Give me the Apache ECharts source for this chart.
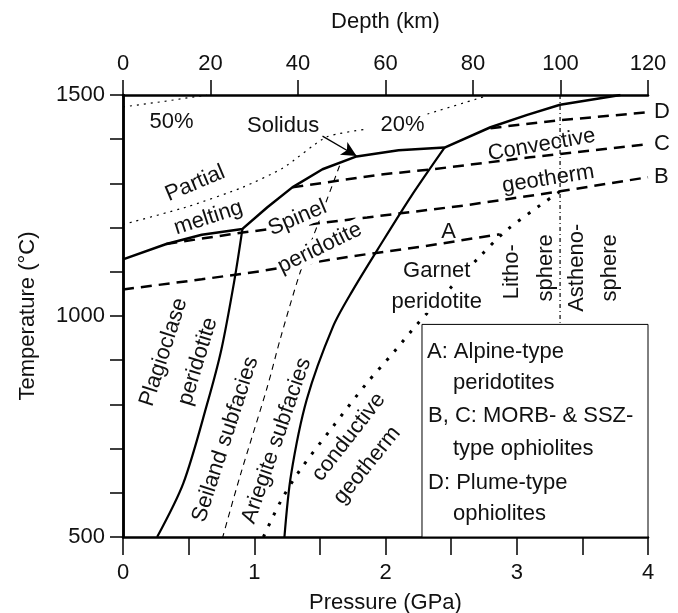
<!DOCTYPE html>
<html>
<head>
<meta charset="utf-8">
<script src="https://cdn.jsdelivr.net/npm/echarts@6/dist/echarts.min.js"></script>
<style>
html, body { margin: 0; padding: 0; background: #fff; }
#chart { width: 678px; height: 613px; }
</style>
</head>
<body>
<div id="chart"></div>
<script>
// pressure (GPa), temperature (°C)
const solidus = [[0, 1128], [0.33, 1163], [0.6, 1184], [0.91, 1197], [1.1, 1246], [1.29, 1291], [1.52, 1332], [1.78, 1361], [2.1, 1375], [2.45, 1381], [2.8, 1427], [3.08, 1455], [3.33, 1478], [3.79, 1500]];
const plagSpinel = [[0.91, 1197], [0.85, 1083], [0.75, 925], [0.64, 800], [0.46, 622], [0.26, 500]];
const spinelGarnet = [[2.45, 1381], [2.2, 1273], [1.96, 1160], [1.75, 1058], [1.6, 976], [1.4, 811], [1.28, 640], [1.23, 500]];
const seilandAriegite = [[1.65, 1340], [1.5, 1220], [1.35, 1099], [1.2, 950], [1.1, 840], [0.89, 636], [0.76, 500]];
const melt50 = [[0, 1473], [0.3, 1485], [0.64, 1500]];
const melt20 = [[0, 1207], [0.5, 1248], [0.91, 1291], [1.22, 1335], [1.55, 1405], [1.86, 1423], [2.1, '-'], [2.32, 1457], [2.77, 1498]];
const geothermA = [[0, 1060], [0.6, 1083], [1.04, 1101], [1.74, 1135], [2.3, 1158], [2.87, 1185]];
const geothermB = [[0.33, 1163], [0.91, 1189], [1.86, 1223], [2.6, 1250], [3.33, 1282], [4, 1314]];
const geothermC = [[1.29, 1291], [1.96, 1320], [2.36, 1332], [3.1, 1359], [4, 1389]];
const geothermD = [[2.8, 1425], [3.33, 1443], [4, 1461]];
const conductive = [[1.07, 500], [1.2, 580], [1.35, 652], [1.6, 750], [1.86, 849], [2.06, 917], [2.24, 981], [2.5, 1065], [2.72, 1135], [2.93, 1196], [3.33, 1282]];
const lithoAstheno = [[3.33, 1500], [3.33, 985]];
const solidusArrow = [[1.52, 1407], [1.78, 1362]];
const legendBox = [[2.278, 981], [4, 500]];

// text, P, T, rotation (deg), align, masks lines behind it
const notes = [
  ['50%', 0.37, 1438, 0],
  ['Solidus', 1.22, 1429, 0],
  ['20%', 2.13, 1433, 0],
  ['Partial', 0.55, 1300, 23],
  ['melting', 0.65, 1222, 18],
  ['Spinel', 1.33, 1222, 23, null, true],
  ['peridotite', 1.5, 1154, 26, null, true],
  ['Convective', 3.19, 1387, 10],
  ['geotherm', 3.24, 1310, 9],
  ['A', 2.48, 1190, 0],
  ['Garnet', 2.39, 1102, 0, null, true],
  ['peridotite', 2.39, 1032, 0, null, true],
  ['Litho-', 2.96, 1100, 90],
  ['sphere', 3.22, 1109, 90],
  ['Astheno-', 3.46, 1109, 90],
  ['sphere', 3.71, 1109, 90],
  ['Plagioclase', 0.31, 918, 72],
  ['peridotite', 0.57, 897, 73],
  ['Seiland subfacies', 0.78, 721, 72],
  ['Ariegite subfacies', 1.17, 718, 71],
  ['conductive', 1.72, 726, 52],
  ['geotherm', 1.86, 662, 51],
  ['A: Alpine-type', 2.316, 918, 0, 'left'],
  ['peridotites', 2.514, 848, 0, 'left'],
  ['B, C: MORB- & SSZ-', 2.324, 775, 0, 'left'],
  ['type ophiolites', 2.514, 700, 0, 'left'],
  ['D: Plume-type', 2.324, 623, 0, 'left'],
  ['ophiolites', 2.514, 553, 0, 'left']
];

const FONT = '"Liberation Sans", Arial, sans-serif';
const SIZE = 22;
const ink = '#111';

function curve(data, width, dash, extra) {
  return Object.assign({
    type: 'line',
    data: data,
    symbol: 'none',
    silent: true,
    connectNulls: false,
    lineStyle: { color: '#000', width: width, type: dash || 'solid' }
  }, extra || {});
}

function endTag(text) {
  return {
    endLabel: { show: true, formatter: text, fontFamily: FONT, fontSize: SIZE, color: ink, distance: 6 }
  };
}

const chart = echarts.init(document.getElementById('chart'));

chart.setOption({
  animation: false,
  backgroundColor: '#fff',
  grid: { left: 123, right: 30, top: 95, bottom: 76, outerBoundsMode: 'none' },
  xAxis: [
    {
      type: 'value', position: 'bottom', min: 0, max: 4, interval: 0.5,
      name: 'Pressure (GPa)', nameLocation: 'middle', nameGap: 55,
      nameTextStyle: { fontFamily: FONT, fontSize: SIZE, color: ink },
      axisLine: { lineStyle: { color: '#000', width: 2.5 } },
      axisTick: { length: 18, lineStyle: { color: '#000', width: 1.5 } },
      axisLabel: { margin: 25, fontFamily: FONT, fontSize: SIZE, color: ink,
        formatter: v => (Number.isInteger(v) ? String(v) : '') },
      splitLine: { show: false }
    },
    {
      type: 'value', position: 'top', min: 0, max: 120, interval: 20,
      name: 'Depth (km)', nameLocation: 'middle', nameGap: 62,
      nameTextStyle: { fontFamily: FONT, fontSize: SIZE, color: ink },
      axisLine: { lineStyle: { color: '#000', width: 2.5 } },
      axisTick: { length: 15, lineStyle: { color: '#000', width: 1.5 } },
      axisLabel: { margin: 20, fontFamily: FONT, fontSize: SIZE, color: ink },
      splitLine: { show: false }
    }
  ],
  yAxis: [
    {
      type: 'value', position: 'left', min: 500, max: 1500, interval: 100,
      name: 'Temperature (°C)', nameLocation: 'middle', nameGap: 84,
      nameTextStyle: { fontFamily: FONT, fontSize: SIZE, color: ink },
      axisLine: { show: true, lineStyle: { color: '#000', width: 2.5 } },
      axisTick: { show: true, length: 13, lineStyle: { color: '#000', width: 1.5 } },
      axisLabel: { margin: 18, fontFamily: FONT, fontSize: SIZE, color: ink,
        formatter: v => (v % 500 === 0 ? String(v) : '') },
      splitLine: { show: false }
    },
    {
      type: 'value', position: 'right', min: 500, max: 1500,
      axisLine: { show: true, lineStyle: { color: '#000', width: 2.5 } },
      axisTick: { show: false }, axisLabel: { show: false }, splitLine: { show: false }
    }
  ],
  series: [
    curve(solidus, 2.5),
    curve(plagSpinel, 2.2, 'solid', { smooth: 0.3 }),
    curve(spinelGarnet, 2.2, 'solid', { smooth: 0.3 }),
    curve(seilandAriegite, 1.1, [6, 5], { smooth: 0.3 }),
    curve(melt50, 1.2, [2, 5]),
    curve(melt20, 1.2, [2, 5], { smooth: 0.2 }),
    curve(geothermA, 2.5, [11, 7]),
    curve(geothermB, 2.5, [11, 7], endTag('B')),
    curve(geothermC, 2.5, [11, 7], endTag('C')),
    curve(geothermD, 2.5, [11, 7], endTag('D')),
    curve(conductive, 3, [3, 9], { smooth: 0.3 }),
    curve(lithoAstheno, 1.2, [4, 3, 1, 3]),
    {
      type: 'line', data: [], silent: true,
      markLine: {
        silent: true, symbol: ['none', 'arrow'], symbolSize: [11, 15],
        label: { show: false },
        lineStyle: { color: '#000', width: 1.3, type: 'solid' },
        data: [[{ coord: solidusArrow[0] }, { coord: solidusArrow[1] }]]
      },
      markArea: {
        silent: true,
        itemStyle: { color: '#fff', borderColor: '#000', borderWidth: 1 },
        data: [[{ coord: legendBox[0] }, { coord: legendBox[1] }]]
      }
    },
    {
      type: 'custom',
      silent: true,
      z: 10,
      data: notes.map(n => [n[1], n[2]]),
      renderItem: function (params, api) {
        const n = notes[params.dataIndex];
        const pt = api.coord([n[1], n[2]]);
        const style = {
          text: n[0],
          font: SIZE + 'px ' + FONT,
          fill: ink,
          align: n[4] || 'center',
          verticalAlign: 'middle'
        };
        if (n[5]) {
          style.backgroundColor = '#fff';
          style.padding = [0, 1];
        }
        return {
          type: 'text',
          x: pt[0],
          y: pt[1],
          rotation: (n[3] || 0) * Math.PI / 180,
          style: style
        };
      }
    }
  ]
});

window.addEventListener('resize', () => chart.resize());
</script>
</body>
</html>
